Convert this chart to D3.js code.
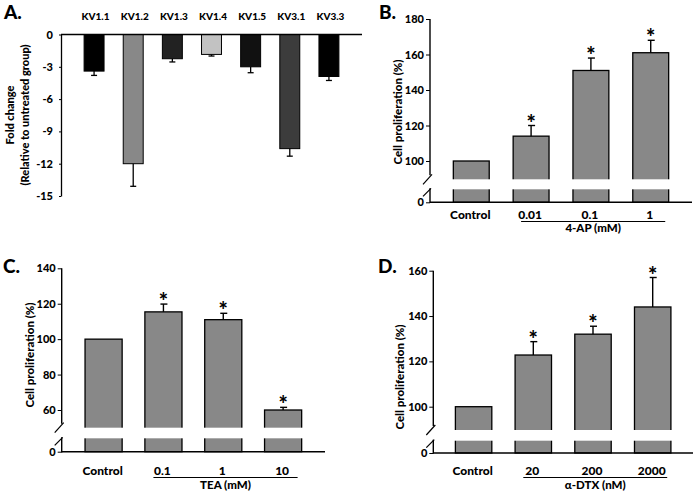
<!DOCTYPE html>
<html><head><meta charset="utf-8">
<script src="https://cdn.jsdelivr.net/npm/d3@7"></script>
<style>
body{margin:0;background:#fff}
svg{display:block}
text{font-family:Lato,"Open Sans",sans-serif;font-weight:900;fill:#000}
</style>
</head><body>
<svg id="c" width="699" height="495"></svg>
<script>
// ---------- DATA ----------
const catsA = ["KV1.1","KV1.2","KV1.3","KV1.4","KV1.5","KV3.1","KV3.3"];
const valsA = [-3.4,-12.0,-2.25,-1.85,-3.0,-10.6,-3.9];
const errA  = [0.4,2.1,0.3,0.15,0.55,0.7,0.37];
const ticksA = [0,-3,-6,-9,-12,-15];

const catsB = ["Control","0.01","0.1","1"];
const valsB = [100,114,151,161];
const errB  = [0,6,7,7];
const sigB  = [false,true,true,true];
const ticksB = [0,100,120,140,160,180];

const catsC = ["Control","0.1","1","10"];
const valsC = [100,115.4,111,60];
const errC  = [0,4.4,3.6,1.5];
const sigC  = [false,true,true,true];
const ticksC = [0,60,80,100,120,140];

const catsD = ["Control","20","200","2000"];
const valsD = [100,122.8,132,144];
const errD  = [0,5.9,3.5,13];
const sigD  = [false,true,true,true];
const ticksD = [0,100,120,140,160];

// ---------- STYLE ----------
const colorsA = ["#000000","#888888","#222222","#c2c2c2","#111111","#3c3c3c","#000000"];
const barGray = "#888888";
const svg = d3.select("#c");
const FONT = 'Lato, "Open Sans", sans-serif';

function styleAxis(g, fs){
  g.attr("font-family", FONT).attr("font-size", fs).attr("font-weight","900");
  g.selectAll("text").attr("fill","#000");
  g.selectAll("line").attr("stroke","#000").attr("stroke-width",1);
}
function panelLetter(t,x,y){
  svg.append("text").attr("x",x).attr("y",y).attr("font-size",19).text(t);
}
function yTitle(lines, cx, cy, fs){
  lines.forEach((t,i)=>{
    svg.append("text")
      .attr("transform",`translate(${cx[i]},${cy}) rotate(-90)`)
      .attr("text-anchor","middle").attr("dominant-baseline","central")
      .attr("font-size",fs).text(t);
  });
}

// ---------- PANEL A ----------
(function(){
  const x0 = 61, x1 = 362;
  const x = d3.scaleBand().domain(catsA).range([x0,x1]).paddingInner(0.49).paddingOuter(0.59);
  const y = d3.scaleLinear().domain([-15,0]).range([196,34.5]);
  const g = svg.append("g");
  const ax = g.append("g").attr("transform",`translate(${x0},0)`)
    .call(d3.axisLeft(y).tickValues(ticksA).tickSize(2).tickPadding(6).tickSizeOuter(0).tickFormat(d=>String(d)));
  styleAxis(ax, 11);
  ax.select(".domain").attr("stroke","#000").attr("stroke-width",1.3);
  g.selectAll("rect.bar").data(valsA).join("rect")
    .attr("x",(d,i)=>x(catsA[i])).attr("width",x.bandwidth())
    .attr("y",y(0)).attr("height",d=>y(d)-y(0))
    .attr("fill",(d,i)=>colorsA[i]).attr("stroke","#000").attr("stroke-width",1);
  valsA.forEach((v,i)=>{
    const cx = x(catsA[i]) + x.bandwidth()/2;
    g.append("line").attr("x1",cx).attr("x2",cx).attr("y1",y(v)).attr("y2",y(v-errA[i])).attr("stroke","#000").attr("stroke-width",1.3);
    g.append("line").attr("x1",cx-3).attr("x2",cx+3).attr("y1",y(v-errA[i])).attr("y2",y(v-errA[i])).attr("stroke","#000").attr("stroke-width",1.3);
  });
  g.append("line").attr("x1",x0).attr("x2",x1).attr("y1",y(0)).attr("y2",y(0)).attr("stroke","#000").attr("stroke-width",1.5);
  g.selectAll("text.cat").data(catsA).join("text")
    .attr("x",d=>x(d)+x.bandwidth()/2+1.5).attr("y",19.5)
    .attr("text-anchor","middle").attr("font-size",10).text(d=>d);
  yTitle(["Fold change","(Relative to untreated group)"],[9,24.5],115,11);
  panelLetter("A.",4,19);
})();

// ---------- BROKEN PANELS ----------
function broken(o){
  const g = svg.append("g");
  const x = d3.scaleBand().domain(o.cats).range([o.x0,o.x1]).paddingInner(o.pi).paddingOuter(o.po);
  const y = d3.scaleLinear().domain(o.dom).range(o.rng);
  const ax = g.append("g").attr("transform",`translate(${o.x0},0)`)
    .call(d3.axisLeft(y).tickValues(o.ticks).tickSize(4).tickPadding(2).tickSizeOuter(0));
  styleAxis(ax, 11);
  ax.select(".domain").remove();
  g.selectAll("rect.bar").data(o.vals).join("rect")
    .attr("x",(d,i)=>x(o.cats[i])).attr("width",x.bandwidth())
    .attr("y",d=>y(d)).attr("height",d=>y(0)-y(d))
    .attr("fill",barGray).attr("stroke","#000").attr("stroke-width",1.3);
  o.cats.forEach(c=>{
    g.append("rect").attr("x",x(c)-2).attr("width",x.bandwidth()+4)
      .attr("y",o.gap[0]).attr("height",o.gap[1]-o.gap[0]).attr("fill","#fff");
  });
  o.vals.forEach((v,i)=>{
    if(!o.errs[i]) return;
    const cx = x(o.cats[i]) + x.bandwidth()/2;
    const top = y(v+o.errs[i]);
    g.append("line").attr("x1",cx).attr("x2",cx).attr("y1",y(v)).attr("y2",top).attr("stroke","#000").attr("stroke-width",1.4);
    g.append("line").attr("x1",cx-3).attr("x2",cx+4).attr("y1",top).attr("y2",top).attr("stroke","#000").attr("stroke-width",1.4);
    if(o.sig[i]) g.append("text").attr("x",cx).attr("y",top+5).attr("text-anchor","middle").attr("font-size",22).text("*");
  });
  const a = o.x0, gt = o.gap[0], gb = o.gap[1];
  const ln = (x1,y1,x2,y2,w)=>g.append("line").attr("x1",x1).attr("y1",y1).attr("x2",x2).attr("y2",y2).attr("stroke","#000").attr("stroke-width",w||1.4);
  ln(a, y(o.dom[o.dom.length-1]), a, gt-4);
  ln(a-7, gt+5, a+2, gt-5, 1.2);
  ln(a-7, gb+7, a+1, gb-1, 1.2);
  ln(a, gb-1, a, y(0)+0.7);
  ln(a, y(0), o.x1, y(0), 1.5);
  g.selectAll("text.cat").data(o.cats).join("text")
    .attr("x",d=>x(d)+x.bandwidth()/2-1).attr("y",o.labY)
    .attr("text-anchor","middle").attr("font-size",12).text(d=>d);
  const c2 = x(o.cats[1])+x.bandwidth()/2, c4 = x(o.cats[3])+x.bandwidth()/2;
  ln(c2-10, o.lineY, c4+14.5, o.lineY, 1.2);
  g.append("text").attr("x",(c2-10+c4+14.5)/2).attr("y",o.grpY).attr("text-anchor","middle").attr("font-size",11.5).text(o.group);
  yTitle(["Cell proliferation (%)"],[o.titleX],o.titleY,11.5);
  panelLetter(o.letter,o.lx,o.ly);
}

broken({cats:catsB, vals:valsB, errs:errB, sig:sigB, ticks:ticksB,
  dom:[0,100,180], rng:[202.3,161,19], x0:430, x1:692, pi:0.4, po:0.39,
  gap:[179.3,189.3], labY:219, lineY:221.5, grpY:232, group:"4-AP (mM)",
  titleX:397, titleY:112, letter:"B.", lx:379, ly:19});

broken({cats:catsC, vals:valsC, errs:errC, sig:sigC, ticks:ticksC,
  dom:[0,60,140], rng:[451.7,410,268.3], x0:61.7, x1:325, pi:0.38, po:0.39,
  gap:[427.7,438.3], labY:474.5, lineY:477.5, grpY:488.5, group:"TEA (mM)",
  titleX:29, titleY:355, letter:"C.", lx:3, ly:273});

broken({cats:catsD, vals:valsD, errs:errD, sig:sigD, ticks:ticksD,
  dom:[0,100,160], rng:[453,406.7,270.7], x0:433.3, x1:693, pi:0.39, po:0.37,
  gap:[430,440.7], labY:474.5, lineY:477.5, grpY:488.5, group:"α-DTX (nM)",
  titleX:399, titleY:377, letter:"D.", lx:378, ly:273});
</script>
</body></html>
